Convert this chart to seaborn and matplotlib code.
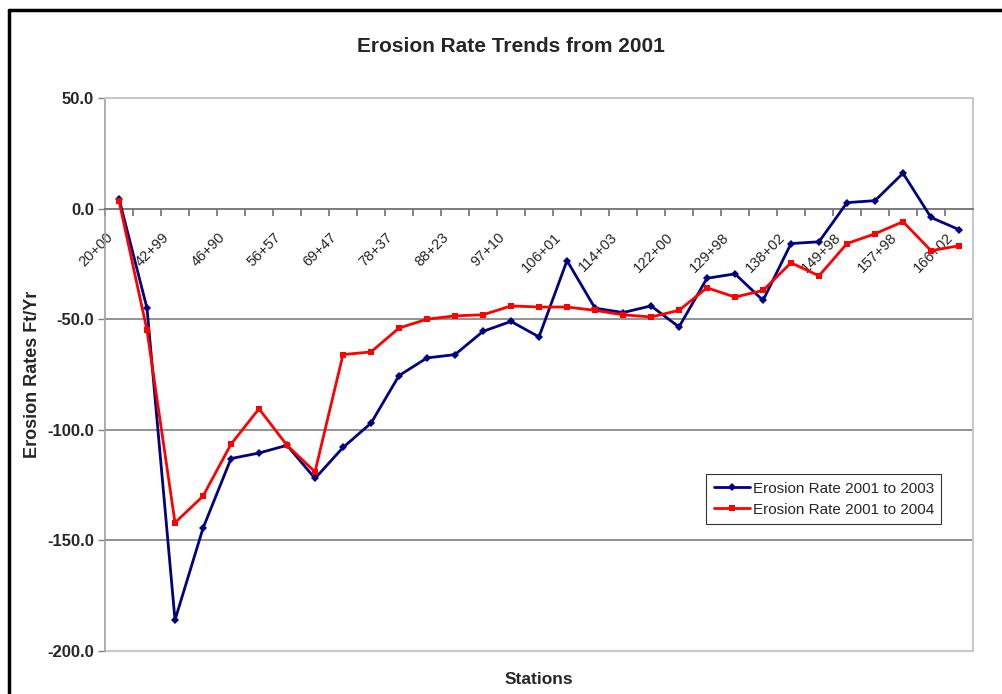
import matplotlib
matplotlib.use("Agg")
import matplotlib.pyplot as plt
from matplotlib.lines import Line2D
from matplotlib.ticker import FixedLocator, FormatStrFormatter
from matplotlib.transforms import ScaledTranslation
import seaborn as sns
import pandas as pd

# ---- data ----
station_labels = ["20+00", "42+99", "46+90", "56+57", "69+47", "78+37", "88+23", "97+10",
                  "106+01", "114+03", "122+00", "129+98", "138+02", "149+98", "157+98", "166+02"]
rate_2003 = [4.5, -45, -186, -144.5, -113, -110.5, -107, -122, -108, -97, -75.5, -67.5,
             -66, -55.5, -51, -58, -23.5, -45, -47, -44, -53.5, -31.5, -29.5, -41.5,
             -15.8, -15, 2.7, 3.6, 16, -4, -9.5]
rate_2004 = [3.5, -55, -142, -130, -106.5, -90.5, -107, -119, -66, -64.8, -54, -50,
             -48.5, -48, -44, -44.5, -44.5, -46, -48, -49, -46, -35.8, -40, -37,
             -24.5, -30.4, -15.8, -11.4, -5.9, -19, -16.8]
series_names = ["Erosion Rate 2001 to 2003", "Erosion Rate 2001 to 2004"]
y_ticks = [-200, -150, -100, -50, 0, 50]

n = len(rate_2003)
df = pd.DataFrame({
    "idx": list(range(n)) * 2,
    "rate": rate_2003 + rate_2004,
    "series": [series_names[0]] * n + [series_names[1]] * n,
})

sns.set_theme(style="white")
plt.rcParams["font.family"] = ["Liberation Sans", "DejaVu Sans"]

fig = plt.figure(figsize=(10.02, 6.94), dpi=100)
ax = fig.add_axes([105 / 1002, 1 - 651 / 694, (973 - 105) / 1002, (651 - 98) / 694])

palette = {series_names[0]: "#000080", series_names[1]: "#FF0000"}
markers = {series_names[0]: "D", series_names[1]: "s"}
sns.lineplot(data=df, x="idx", y="rate", hue="series", style="series",
             palette=palette, markers=markers, dashes=False, linewidth=2,
             markersize=4.5, markeredgewidth=0, ax=ax, zorder=3)
for ln in ax.lines:
    if ln.get_marker() == "D":
        ln.set_markersize(4)

ax.set_xlim(-0.5, n - 0.5)
ax.set_ylim(-200, 50)

# gridlines
for g in [-50, -100, -150]:
    ax.axhline(g, color="#808080", linewidth=1.2, zorder=1)

# y axis
ax.yaxis.set_major_locator(FixedLocator(y_ticks))
ax.yaxis.set_major_formatter(FormatStrFormatter("%.1f"))
ax.tick_params(axis="y", which="major", direction="out", length=5, width=1,
               color="#808080", labelsize=12, pad=3, left=True)
for lab in ax.get_yticklabels():
    lab.set_fontweight("bold")

# x axis crossing at 0
ax.spines["bottom"].set_position(("data", 0))
ax.spines["bottom"].set_color("#707070")
ax.spines["bottom"].set_linewidth(1.3)
for s in ["top", "right"]:
    ax.spines[s].set_color("#c8c8c8")
    ax.spines[s].set_linewidth(1.5)
ax.spines["left"].set_color("#a0a0a0")
ax.spines["left"].set_linewidth(1.2)
ax.axhline(-200, color="#c8c8c8", linewidth=1.5, zorder=1, clip_on=False)

ax.xaxis.set_major_locator(FixedLocator(list(range(0, n, 2))))
ax.set_xticklabels(station_labels)
ax.xaxis.set_minor_locator(FixedLocator([i - 0.5 for i in range(n + 1)]))
ax.tick_params(axis="x", which="major", length=0, pad=9, labelsize=10.5, bottom=True)
ax.tick_params(axis="x", which="minor", direction="out", length=5, width=1.2,
               color="#707070", bottom=True)
shift = ScaledTranslation(-13 / 100, -9 / 100, fig.dpi_scale_trans)
for lab in ax.get_xticklabels():
    lab.set_rotation(45)
    lab.set_ha("right")
    lab.set_va("top")
    lab.set_rotation_mode("anchor")
    lab.set_transform(lab.get_transform() + shift)

ax.set_xlabel("")
ax.set_ylabel("")

# legend
handles, labels = ax.get_legend_handles_labels()
leg = ax.legend(handles, labels, loc="upper left",
                bbox_to_anchor=(706 / 1002, 1 - 474 / 694), bbox_transform=fig.transFigure,
                borderaxespad=0, frameon=True, fancybox=False, fontsize=11,
                handlelength=2.4, handletextpad=0.15, borderpad=0.5, labelspacing=0.45)
leg.get_frame().set_edgecolor("black")
leg.get_frame().set_linewidth(0.8)

# texts
fig.text(511 / 1002, 1 - 47 / 694, "Erosion Rate Trends from 2001", ha="center", va="center",
         fontsize=15, fontweight="bold")
fig.text(539 / 1002, 1 - 679 / 694, "Stations", ha="center", va="center",
         fontsize=12.5, fontweight="bold")
fig.text(33 / 1002, 1 - 374 / 694, "Erosion Rates Ft/Yr", ha="center", va="center",
         rotation=90, fontsize=13, fontweight="bold")

# outer border (left and top)
fig.add_artist(Line2D([9 / 1002, 9 / 1002], [0, 1 - 10 / 694], color="black", linewidth=2.5,
                      transform=fig.transFigure))
fig.add_artist(Line2D([9 / 1002, 1], [1 - 10 / 694, 1 - 10 / 694], color="black", linewidth=2.5,
                      transform=fig.transFigure))

fig.savefig("out.png", dpi=100, facecolor="white")
